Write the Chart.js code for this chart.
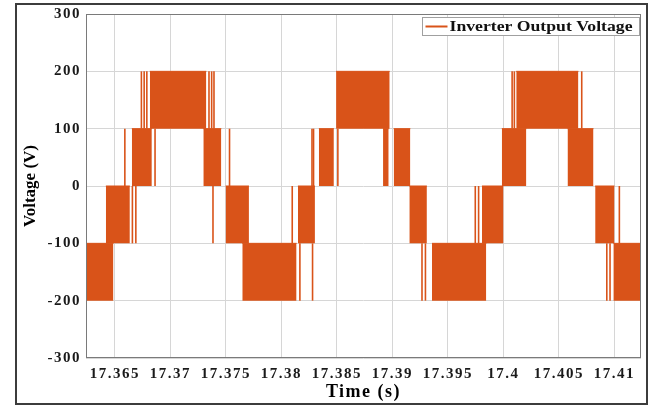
<!DOCTYPE html>
<html>
<head>
<meta charset="utf-8">
<script src="https://cdn.jsdelivr.net/npm/chart.js@4/dist/chart.umd.js"></script>
<style>
html,body{margin:0;padding:0;background:#fff;}
#wrap{width:659px;height:406px;position:relative;}
</style>
</head>
<body>
<div id="wrap"><canvas id="c" width="659" height="406"></canvas></div>
<script>
// ---- data ----
const seriesLabel = 'Inverter Output Voltage';
const xTickValues = [17.365, 17.37, 17.375, 17.38, 17.385, 17.39, 17.395, 17.4, 17.405, 17.41];
const xTickLabels = ['17.365', '17.37', '17.375', '17.38', '17.385', '17.39', '17.395', '17.4', '17.405', '17.41'];
const yTickValues = [-300, -200, -100, 0, 100, 200, 300];

// densely switched PWM bands: the output toggles between bandLow and bandHigh from bandStart to bandEnd
const bandStart = [17.36240, 17.36419, 17.36653, 17.36815, 17.37297, 17.37498, 17.37648, 17.38149, 17.38338, 17.38493,
                   17.38916, 17.39012, 17.39153, 17.39357, 17.39807, 17.39986, 17.40116, 17.40578, 17.40827, 17.40991];
const bandEnd   = [17.36487, 17.36635, 17.36833, 17.37324, 17.37459, 17.37708, 17.38137, 17.38302, 17.38473, 17.38976,
                   17.38967, 17.39162, 17.39311, 17.39846, 17.40001, 17.40207, 17.40676, 17.40812, 17.41001, 17.41240];
const bandLow   = [-200, -100, 0, 100, 0, -100, -200, -100, 0, 100,
                   0, 0, -100, -200, -100, 0, 100, 0, -100, -200];
const bandHigh  = [-100, 0, 100, 200, 100, 0, -100, 0, 100, 200,
                   100, 100, 0, -100, 0, 100, 200, 100, 0, -100];

// isolated single switching pulses
const spikeTime = [17.36590, 17.36658, 17.36689, 17.36739, 17.36764, 17.36788, 17.36862, 17.37348, 17.37372, 17.37393,
                   17.37384, 17.37533, 17.38098, 17.38167, 17.38281, 17.38276, 17.38290, 17.38509, 17.39267, 17.39298,
                   17.39747, 17.39777, 17.40079, 17.40099, 17.40706, 17.40932, 17.40961, 17.41045];
const spikeLow  = [0, -100, -100, 100, 100, 100, 0, 100, 100, 100,
                   -100, 0, -100, -200, -200, 0, 0, 0, -200, -200,
                   -100, -100, 100, 100, 100, -200, -200, -100];
const spikeHigh = [100, 0, 0, 200, 200, 200, 100, 200, 200, 200,
                   0, 100, 0, -100, -100, 100, 100, 100, -100, -100,
                   0, 0, 200, 200, 200, -100, -100, 0];

// ---- styling ----
const ORANGE = '#D95319';
const FONT_FAMILY = '"Liberation Serif", "Times New Roman", Times, serif';

const datasets = [];
bandStart.forEach((s, i) => {
  datasets.push({
    label: seriesLabel,
    data: [{x: s, y: bandHigh[i]}, {x: bandEnd[i], y: bandHigh[i]}],
    borderColor: ORANGE,
    backgroundColor: ORANGE,
    borderWidth: 1,
    pointRadius: 0,
    tension: 0,
    fill: {value: bandLow[i]}
  });
});
spikeTime.forEach((t, i) => {
  datasets.push({
    label: seriesLabel,
    data: [{x: t, y: spikeLow[i]}, {x: t, y: spikeHigh[i]}],
    borderColor: ORANGE,
    backgroundColor: ORANGE,
    borderWidth: 1.6,
    pointRadius: 0,
    fill: false
  });
});

// the reference picture is slightly stretched horizontally: widen text with letter spacing
function withSpacing(obj, fnName, spacing) {
  const key = '__spaced_' + fnName;
  if (obj[key]) return;
  const orig = obj[fnName];
  obj[fnName] = function (...args) {
    const c = this.ctx;
    const prev = c.letterSpacing;
    c.letterSpacing = spacing;
    try { return orig.apply(this, args); } finally { c.letterSpacing = prev; }
  };
  obj[key] = true;
}

const framePlugin = {
  id: 'frame',
  beforeDraw(chart) {
    const ctx = chart.ctx;
    if (chart.scales.x) {
      withSpacing(chart.scales.x, 'drawLabels', '1.5px');
      withSpacing(chart.scales.x, 'drawTitle', '1.5px');
    }
    if (chart.scales.y) {
      withSpacing(chart.scales.y, 'drawLabels', '1.5px');
      withSpacing(chart.scales.y, 'drawTitle', '0px');
    }
    ctx.save();
    ctx.fillStyle = '#ffffff';
    ctx.fillRect(0, 0, chart.width, chart.height);
    ctx.strokeStyle = '#3c3c3c';
    ctx.lineWidth = 2;
    ctx.strokeRect(16, 4, 631, 400);
    ctx.restore();
  },
  afterDatasetsDraw(chart) {
    const {ctx, chartArea: a} = chart;
    ctx.save();
    ctx.strokeStyle = '#7a7a7a';
    ctx.lineWidth = 1;
    ctx.strokeRect(Math.round(a.left) + 0.5, Math.round(a.top) + 0.5,
                   Math.round(a.right - a.left) - 1, Math.round(a.bottom - a.top) - 1);
    ctx.restore();
  },
  afterDraw(chart) {
    const ctx = chart.ctx;
    const a = chart.chartArea;
    ctx.save();
    const boxR = a.right - 1.5, boxT = 17.5, boxH = 18, boxL = 422.5;
    ctx.fillStyle = '#ffffff';
    ctx.fillRect(boxL, boxT, boxR - boxL, boxH);
    ctx.strokeStyle = '#a0a0a0';
    ctx.lineWidth = 1;
    ctx.strokeRect(boxL, boxT, boxR - boxL, boxH);
    const cy = boxT + boxH / 2;
    ctx.strokeStyle = ORANGE;
    ctx.lineWidth = 2;
    ctx.beginPath();
    ctx.moveTo(boxL + 3, cy);
    ctx.lineTo(boxL + 25, cy);
    ctx.stroke();
    ctx.font = 'bold 14px ' + FONT_FAMILY;
    ctx.fillStyle = '#111111';
    ctx.textBaseline = 'middle';
    ctx.textAlign = 'left';
    ctx.letterSpacing = '0px';
    const w = ctx.measureText(seriesLabel).width;
    const target = 183;
    ctx.translate(boxL + 27, cy + 0.5);
    ctx.scale(target / w, 1);
    ctx.fillText(seriesLabel, 0, 0);
    ctx.restore();
  }
};

const tickFont = {family: FONT_FAMILY, size: 15, weight: 'bold'};
const xTitleFont = {family: FONT_FAMILY, size: 18, weight: 'bold'};
const yTitleFont = {family: FONT_FAMILY, size: 17, weight: 'bold'};

new Chart(document.getElementById('c'), {
  type: 'line',
  data: {datasets},
  plugins: [framePlugin],
  options: {
    responsive: false,
    animation: false,
    devicePixelRatio: 1,
    layout: {padding: {left: 16, top: 13, right: 18, bottom: 3}},
    plugins: {legend: {display: false}, tooltip: {enabled: false}},
    events: [],
    scales: {
      x: {
        type: 'linear',
        min: 17.3624,
        max: 17.4124,
        afterBuildTicks: (s) => { s.ticks = xTickValues.map(v => ({value: v})); },
        afterFit: (s) => { s.height = 45; },
        ticks: {
          autoSkip: false, maxRotation: 0, minRotation: 0, padding: 7,
          font: tickFont, color: '#1a1a1a',
          callback: (v, i) => xTickLabels[i]
        },
        grid: {color: '#d6d6d6', lineWidth: 1, drawTicks: false},
        border: {display: false},
        title: {display: true, text: 'Time (s)', font: xTitleFont, color: '#000', padding: {top: 0, bottom: 0}}
      },
      y: {
        min: -300,
        max: 300,
        afterBuildTicks: (s) => { s.ticks = yTickValues.map(v => ({value: v})); },
        afterFit: (s) => { s.width = 70; },
        ticks: {
          padding: 5, font: tickFont, color: '#1a1a1a',
          callback: (v) => String(v)
        },
        grid: {color: '#d6d6d6', lineWidth: 1, drawTicks: false},
        border: {display: false},
        title: {display: true, text: 'Voltage (V)', font: yTitleFont, color: '#000', padding: {top: 4, bottom: 0}}
      }
    }
  }
});
</script>
</body>
</html>
